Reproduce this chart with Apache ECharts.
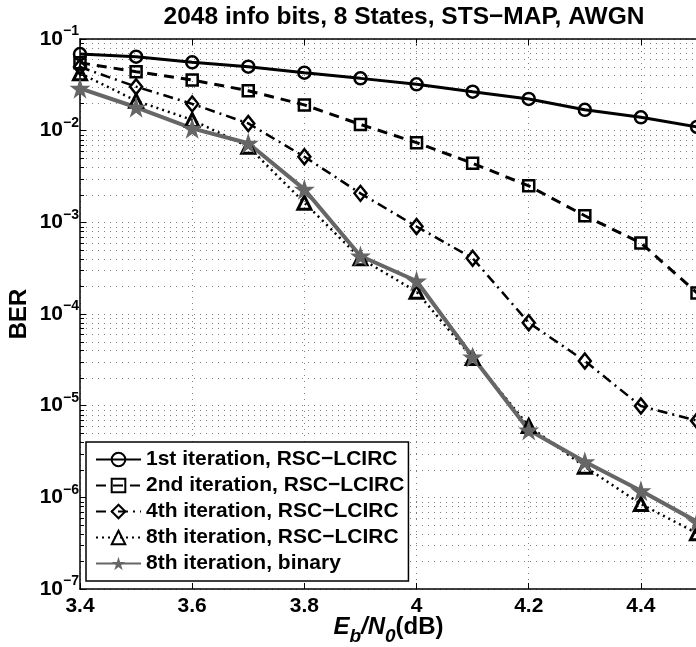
<!DOCTYPE html>
<html>
<head>
<meta charset="utf-8">
<script src="https://cdn.jsdelivr.net/npm/echarts/dist/echarts.min.js"></script>
<style>
  html, body { margin: 0; padding: 0; background: #fff; }
  #chart { width: 696px; height: 647px; }
</style>
</head>
<body>
<div id="chart"></div>
<script>
// Eb/N0 sweep (dB)
const ebn0 = [3.4, 3.5, 3.6, 3.7, 3.8, 3.9, 4.0, 4.1, 4.2, 4.3, 4.4, 4.5];

// Bit error rates per decoder configuration
const berIter1 = [0.0686, 0.0641, 0.0557, 0.0499, 0.0429, 0.0372, 0.0320, 0.0266, 0.0222, 0.0169, 0.0140, 0.0110];
const berIter2 = [0.0550, 0.0440, 0.0357, 0.0273, 0.0191, 0.0117, 0.0074, 0.0044, 0.0025, 0.00118, 0.000595, 0.00017];
const berIter4 = [0.0495, 0.0302, 0.0196, 0.0120, 0.0052, 0.00207, 0.00090, 0.000406, 0.0000804, 0.0000307, 0.0000099, 0.00000686];
const berIter8 = [0.0423, 0.0212, 0.0131, 0.00668, 0.00164, 0.000405, 0.000175, 0.0000331, 0.0000060, 0.00000216, 0.000000845, 0.000000406];
const berIter8Binary = [0.0290, 0.0180, 0.0106, 0.00728, 0.00229, 0.000429, 0.000229, 0.0000340, 0.00000543, 0.00000245, 0.00000118, 0.000000543];

const seriesNames = [
  '1st iteration, RSC\u2212LCIRC',
  '2nd iteration, RSC\u2212LCIRC',
  '4th iteration, RSC\u2212LCIRC',
  '8th iteration, RSC\u2212LCIRC',
  '8th iteration, binary'
];

// Log-axis decades (exponents) and x range
const decades = [-7, -6, -5, -4, -3, -2, -1];
const xMin = 3.4, xMax = 4.5, xStep = 0.2;

const FONT = '"Liberation Sans", Arial, Helvetica, sans-serif';
const INK = '#000';
const GREY = '#666666';
const GRID_DOT = '#808080';

// Five-pointed star outline for the binary-decoder markers
function starPath() {
  const pts = [];
  for (let k = 0; k < 10; k++) {
    const r = k % 2 ? 0.382 : 1;
    const a = -Math.PI / 2 + k * Math.PI / 5;
    pts.push((Math.cos(a) * r).toFixed(4) + ' ' + (Math.sin(a) * r).toFixed(4));
  }
  return 'path://M' + pts.join(' L') + ' Z';
}

const pairs = arr => ebn0.map((x, i) => [x, arr[i]]);

// Minor log positions 2..9 x 10^k
const minorValues = [];
decades.slice(0, -1).forEach(e => {
  for (let m = 2; m <= 9; m++) minorValues.push(+(m * Math.pow(10, e)).toPrecision(3));
});

const hollow = { color: 'rgba(0,0,0,0)', borderColor: INK, borderWidth: 2.5 };

const chart = echarts.init(document.getElementById('chart'), null, { renderer: 'canvas' });

chart.setOption({
  animation: false,
  backgroundColor: '#fff',
  title: {
    text: '2048 info bits, 8 States, STS\u2212MAP, AWGN',
    left: 399,
    top: 0,
    textAlign: 'center',
    textStyle: { fontFamily: FONT, fontSize: 24.5, fontWeight: 'bold', color: INK }
  },
  grid: { left: 80, right: -1, top: 39, bottom: 58, outerBoundsMode: 'none', containLabel: false },
  legend: {
    orient: 'vertical',
    left: 86,
    top: 442,
    itemWidth: 45,
    itemHeight: 17,
    itemGap: 5,
    padding: [7, 4, 7, 9],
    backgroundColor: '#fff',
    borderColor: INK,
    borderWidth: 1.5,
    borderRadius: 0,
    selectedMode: false,
    data: seriesNames,
    textStyle: { fontFamily: FONT, fontSize: 21, fontWeight: 'bold', color: INK, lineHeight: 21 }
  },
  xAxis: [
    {
      type: 'value',
      min: xMin,
      max: xMax,
      interval: xStep,
      name: '{e|E}{sb|b}{e|/N}{sb|0}{n|(dB)}',
      nameLocation: 'middle',
      nameGap: 26,
      nameMoveOverlap: false,
      nameTextStyle: {
        rich: {
          e: { fontFamily: FONT, fontSize: 24, fontWeight: 'bold', fontStyle: 'italic', color: INK, lineHeight: 24, verticalAlign: 'top' },
          n: { fontFamily: FONT, fontSize: 24, fontWeight: 'bold', color: INK, lineHeight: 24, verticalAlign: 'top' },
          sb: { fontFamily: FONT, fontSize: 19, fontWeight: 'bold', fontStyle: 'italic', color: INK, lineHeight: 19, padding: [12, 0, 0, 0], verticalAlign: 'top' }
        }
      },
      axisLine: { show: true, onZero: false, lineStyle: { color: INK, width: 1.5 } },
      axisTick: { show: true, inside: true, length: 6, lineStyle: { color: INK, width: 1 } },
      axisLabel: {
        showMaxLabel: false,
        margin: 7,
        fontFamily: FONT, fontSize: 21, fontWeight: 'bold', color: INK
      },
      splitLine: { show: true, lineStyle: { color: GRID_DOT, width: 1, type: [1, 5] } }
    },
    {
      type: 'value',
      position: 'top',
      min: xMin,
      max: xMax,
      interval: xStep,
      axisLine: { show: true, onZero: false, lineStyle: { color: INK, width: 1.5 } },
      axisTick: { show: true, inside: true, length: 6, lineStyle: { color: INK, width: 1 } },
      axisLabel: { show: false },
      splitLine: { show: false }
    }
  ],
  yAxis: {
    type: 'log',
    logBase: 10,
    min: Math.pow(10, decades[0]),
    max: Math.pow(10, decades[decades.length - 1]),
    name: 'BER',
    nameLocation: 'middle',
    nameRotate: 90,
    nameGap: 49,
    nameMoveOverlap: false,
    nameTextStyle: { fontFamily: FONT, fontSize: 24, fontWeight: 'bold', color: INK },
    axisLine: { show: true, onZero: false, lineStyle: { color: INK, width: 1.5 } },
    axisTick: { show: true, inside: true, length: 6, lineStyle: { color: INK, width: 1 } },
    axisLabel: {
      margin: 1,
      formatter: v => {
        const e = Math.round(Math.log10(v));
        return '{b|10}{s|' + (e < 0 ? '\u2212' : '') + Math.abs(e) + '}';
      },
      rich: {
        b: { fontFamily: FONT, fontSize: 21, fontWeight: 'bold', color: INK, lineHeight: 21, verticalAlign: 'bottom' },
        s: { fontFamily: FONT, fontSize: 14, fontWeight: 'bold', color: INK, lineHeight: 14, padding: [0, 0, 11, 0], verticalAlign: 'bottom' }
      }
    },
    splitLine: { show: true, lineStyle: { color: GRID_DOT, width: 1, type: [1, 5] } }
  },
  series: [
    // Minor log grid (2..9 x 10^k) with short inside ticks on the left axis
    {
      type: 'custom',
      silent: true,
      clip: false,
      z: 1,
      encode: { x: 0, y: 1 },
      data: minorValues.map(v => [xMin, v]),
      renderItem: (params, api) => {
        const a = api.coord([xMin, api.value(1)]);
        const b = api.coord([xMax, api.value(1)]);
        const y = Math.round(a[1]) + 0.5;
        return {
          type: 'group',
          children: [
            { type: 'line', shape: { x1: a[0], y1: y, x2: b[0], y2: y }, style: { stroke: GRID_DOT, lineWidth: 1, lineDash: [1, 5] } },
            { type: 'line', shape: { x1: a[0], y1: y, x2: a[0] + 4, y2: y }, style: { stroke: INK, lineWidth: 1 } }
          ]
        };
      }
    },
    {
      name: seriesNames[0], type: 'line', data: pairs(berIter1), clip: false,
      symbol: 'circle', symbolSize: 12,
      lineStyle: { color: INK, width: 3, type: 'solid' },
      itemStyle: hollow
    },
    {
      name: seriesNames[1], type: 'line', data: pairs(berIter2), clip: false,
      symbol: 'rect', symbolSize: 11,
      lineStyle: { color: INK, width: 3, type: [10, 7] },
      itemStyle: hollow
    },
    {
      name: seriesNames[2], type: 'line', data: pairs(berIter4), clip: false,
      symbol: 'diamond', symbolSize: [12, 15],
      lineStyle: { color: INK, width: 2.5, type: [10, 5, 2, 5] },
      itemStyle: hollow
    },
    {
      name: seriesNames[3], type: 'line', data: pairs(berIter8), clip: false,
      symbol: 'triangle', symbolSize: 13,
      lineStyle: { color: INK, width: 2.5, type: [2, 4] },
      itemStyle: { color: 'rgba(0,0,0,0)', borderColor: INK, borderWidth: 3 }
    },
    {
      name: seriesNames[4], type: 'line', data: pairs(berIter8Binary), clip: false,
      symbol: starPath(), symbolSize: 21,
      lineStyle: { color: GREY, width: 4, type: 'solid' },
      itemStyle: { color: GREY, borderWidth: 0 }
    }
  ]
});
</script>
</body>
</html>
